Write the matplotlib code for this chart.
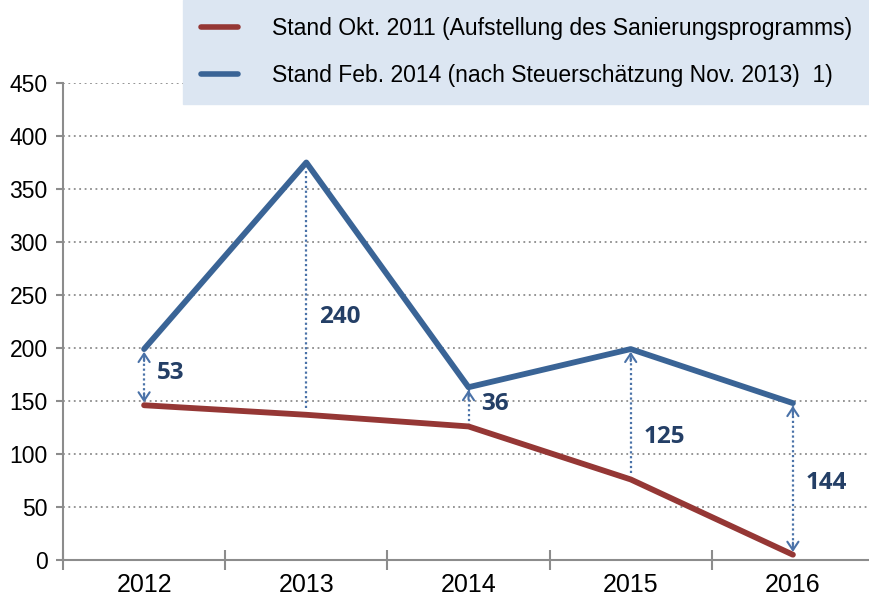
import numpy as np
import matplotlib.pyplot as plt
from matplotlib.lines import Line2D

years = ['2012', '2013', '2014', '2015', '2016']
stand_okt_2011 = [146, 137, 126, 76, 5]
stand_feb_2014 = [199, 375, 163, 199, 148]
differenz = [53, 240, 36, 125, 144]

# layout of the difference markers (style only)
label_y = [176, 229, 147, 116, 73]
head_top = [True, False, True, True, True]
head_bottom = [True, False, False, False, True]

red = '#953735'
blue = '#3A6496'
arrow_col = '#4A72A8'
label_col = '#243F66'
grey = '#8C8C8C'

fig = plt.figure(figsize=(8.69, 6.06), dpi=100)
ax = fig.add_axes([63 / 869, 1 - 560 / 606, 811 / 869, 477 / 606])

x = np.arange(len(years))
ax.plot(x, stand_okt_2011, color=red, lw=4.2, solid_capstyle='round', zorder=3)
ax.plot(x, stand_feb_2014, color=blue, lw=4.2, solid_capstyle='round', zorder=3)

for i in range(len(years)):
    lo, hi = stand_okt_2011[i], stand_feb_2014[i]
    y0 = lo if head_bottom[i] or i == 2 else lo + 6
    y1 = hi if head_top[i] else hi - 6
    ax.plot([x[i], x[i]], [y0, y1], color=arrow_col, lw=1.6,
            ls=(0, (1, 1.2)), zorder=2)
    if head_top[i]:
        ax.annotate('', xy=(x[i], hi), xytext=(x[i], hi - 14),
                    arrowprops=dict(arrowstyle='->,head_length=0.6,head_width=0.4',
                                    color=arrow_col, lw=1.5), zorder=4)
    if head_bottom[i]:
        ax.annotate('', xy=(x[i], lo), xytext=(x[i], lo + 14),
                    arrowprops=dict(arrowstyle='->,head_length=0.6,head_width=0.4',
                                    color=arrow_col, lw=1.5), zorder=4)
    ax.text(x[i] + 0.08, label_y[i], str(differenz[i]), color=label_col,
            fontsize=17.5, fontweight='bold', family=['Open Sans', 'DejaVu Sans'],
            ha='left', va='center', zorder=5)

ax.set_xlim(-0.5, 4.5)
ax.set_ylim(0, 450)
ax.set_yticks(np.arange(0, 451, 50))
ax.set_xticks(np.arange(-0.5, 4.6, 1))
ax.set_xticklabels([])
ax.set_xticks(x, minor=True)
ax.set_xticklabels(years, minor=True)
ax.tick_params(axis='x', which='major', direction='inout', length=14, width=1.5, color=grey)
ax.tick_params(axis='x', which='minor', length=0, pad=9, labelsize=18)
ax.tick_params(axis='y', direction='out', length=5, width=1.5, color=grey, labelsize=16.5, pad=6)
for lab in ax.get_xticklabels(minor=True) + ax.get_yticklabels():
    lab.set_family(['Liberation Sans', 'DejaVu Sans'])

ax.grid(axis='y', color=grey, ls=(0, (1, 2)), lw=1.3)
ax.set_axisbelow(True)
for s in ['top', 'right']:
    ax.spines[s].set_visible(False)
for s in ['left', 'bottom']:
    ax.spines[s].set_color(grey)
    ax.spines[s].set_linewidth(1.5)

handles = [Line2D([], [], color=red, lw=4, solid_capstyle='round'),
           Line2D([], [], color=blue, lw=4, solid_capstyle='round')]
labels = ['Stand Okt. 2011 (Aufstellung des Sanierungsprogramms)',
          'Stand Feb. 2014 (nach Steuerschätzung Nov. 2013)  1)']
leg = fig.legend(handles, labels, loc='upper right', bbox_to_anchor=(1.0, 1.0),
                 prop={'family': ['Liberation Sans Narrow', 'Liberation Sans'], 'size': 16.5},
                 frameon=True, fancybox=False, facecolor='#DCE6F2', edgecolor='#DCE6F2',
                 framealpha=1, handlelength=1.65, handletextpad=1.45, labelspacing=1.05,
                 borderpad=0.75, borderaxespad=0)
leg.set_zorder(10)

fig.savefig('out.png', dpi=100)
